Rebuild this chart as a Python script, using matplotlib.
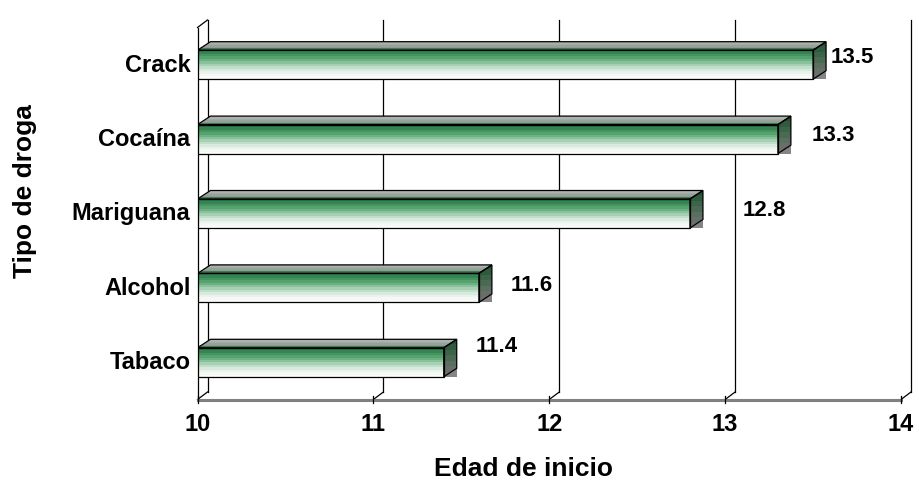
import matplotlib
matplotlib.use("Agg")
import matplotlib.pyplot as plt
import numpy as np
from matplotlib.colors import to_rgb
from matplotlib.patches import Polygon

plt.rcParams['font.family'] = ['Liberation Sans', 'DejaVu Sans']
plt.rcParams['font.weight'] = 'bold'

# Data
drogas = ['Tabaco', 'Alcohol', 'Mariguana', 'Cocaína', 'Crack']
edades = [11.4, 11.6, 12.8, 13.3, 13.5]
xticks = [10, 11, 12, 13, 14]
xtick_labels = ['10', '11', '12', '13', '14']
# value-label placement (x shift in data units, baseline shift in pixels)
label_dx = [0.18, 0.18, 0.30, 0.19, 0.10]
label_base = [-10.6, 2.8, 2.5, 1.6, -1.4]

W, H, DPI = 919, 483, 100
fig = plt.figure(figsize=(W / DPI, H / DPI), dpi=DPI)
L, R, B, T = 197.5, 901.0, 399.5, 27.5
ax = fig.add_axes([L / W, (H - B) / H, (R - L) / W, (B - T) / H])
ax.set_xlim(10, 14)
ax.set_ylim(-0.5, 4.5)
ax.axis('off')

px_x = (R - L) / 4.0
px_y = (B - T) / 5.0

def dx(p):
    return p / px_x

def dy(p):
    return p / px_y

# wall depth and bar depth in pixels
WDX, WDY = 10.0, 7.5
BDX, BDY = 13.0, 8.5

y0, y1 = -0.5, 4.5
wall_kw = dict(color='black', lw=0.9, clip_on=False, zorder=1)

# back-wall vertical gridlines with floor diagonals and tick marks
for t, tl in zip(xticks, xtick_labels):
    ax.plot([t + dx(WDX)] * 2, [y0 + dy(WDY), y1 + dy(WDY)], **wall_kw)
    ax.plot([t, t + dx(WDX)], [y0, y0 + dy(WDY)], **wall_kw)
    ax.plot([t, t], [y0 - dy(3.5), y0 + dy(4)], color='black', lw=0.9,
            clip_on=False, zorder=4)
    ax.text(t, y0 - dy(31.5), tl, ha='center', va='baseline', fontsize=17,
            fontweight='bold', clip_on=False)
# left wall front edge and top diagonal
ax.plot([10, 10], [y0, y1], **wall_kw)
ax.plot([10, 10 + dx(WDX)], [y1, y1 + dy(WDY)], **wall_kw)
# front floor edge
ax.plot([10, 14], [y0, y0], color='#808080', lw=2.2, clip_on=False, zorder=3)

bar_h = 29.0 / px_y

def grad(cols):
    return np.array([to_rgb(c) for c in cols])[:, None, :]

front_cols = ['#2b7a4b', '#358553', '#43945f', '#55a26f', '#6cb183', '#88c19a',
              '#a5d0b2', '#c0dec9', '#d8eadd', '#e9f3ec', '#f4f9f5', '#fafcfa']
top_cols = ['#b8bab8', '#aeb2af', '#a2aaa4', '#97a29a', '#8b9c90', '#3f7a55']
side_cols = ['#264f35', '#2f5a3e', '#3b6448', '#4a6a54', '#5a6f60',
             '#676f69', '#707070']

for i, (name, v) in enumerate(zip(drogas, edades)):
    yb, yt = i - bar_h / 2, i + bar_h / 2
    # front face
    ax.imshow(grad(front_cols), extent=(10, v, yb, yt), aspect='auto',
              interpolation='nearest', zorder=5)
    ax.add_patch(Polygon([(10, yb), (v, yb), (v, yt), (10, yt)], closed=True,
                         fill=False, ec='black', lw=0.9, zorder=6))
    # top face
    top_poly = Polygon([(10, yt), (v, yt), (v + dx(BDX), yt + dy(BDY)),
                        (10 + dx(BDX), yt + dy(BDY))], closed=True,
                       fc='none', ec='black', lw=0.9, zorder=6)
    ax.add_patch(top_poly)
    im = ax.imshow(grad(top_cols), extent=(10, v + dx(BDX), yt, yt + dy(BDY)),
                   aspect='auto', interpolation='nearest', zorder=5)
    im.set_clip_path(top_poly)
    # shadow under the end cap
    ax.add_patch(Polygon([(v, yb), (v + dx(BDX), yb), (v + dx(BDX), yb + dy(BDY))],
                         closed=True, fc='#858585', ec='none', zorder=5))
    # end cap
    side_poly = Polygon([(v, yb), (v, yt), (v + dx(BDX), yt + dy(BDY)),
                         (v + dx(BDX), yb + dy(BDY))], closed=True,
                        fc='none', ec='black', lw=0.9, zorder=6)
    ax.add_patch(side_poly)
    im2 = ax.imshow(grad(side_cols), extent=(v, v + dx(BDX), yb, yt + dy(BDY)),
                    aspect='auto', interpolation='nearest', zorder=5)
    im2.set_clip_path(side_poly)
    # value label
    ax.text(v + label_dx[i], i - dy(label_base[i]), f'{v:.1f}', ha='left',
            va='baseline', fontsize=16, fontweight='bold', zorder=7)
    # category label
    ax.text(10 - dx(7), i - dy(6.8), name, ha='right', va='baseline',
            fontsize=17, fontweight='bold', clip_on=False)

ax.set_xlim(10, 14)
ax.set_ylim(-0.5, 4.5)

fig.text(523.5 / W, 1 - 476.5 / H, 'Edad de inicio', ha='center', va='baseline',
         fontsize=19, fontweight='bold')
fig.text(32 / W, 1 - 191.5 / H, 'Tipo de droga', ha='center', va='baseline',
         rotation=90, rotation_mode='anchor', fontsize=19, fontweight='bold')

fig.savefig('out.png', dpi=DPI)
